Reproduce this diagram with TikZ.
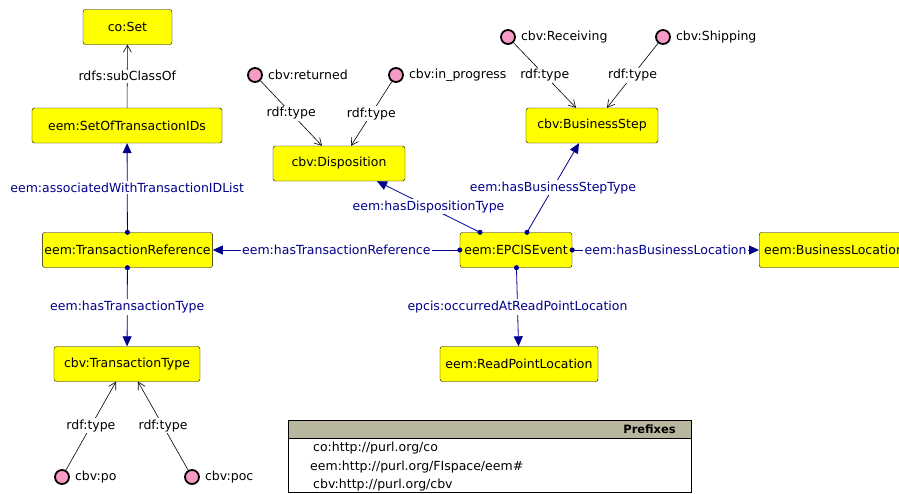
\documentclass[tikz,border=0pt]{standalone}
\usepackage{fontspec}
\setmainfont{DejaVu Sans}
\usetikzlibrary{arrows.meta,positioning}
\definecolor{clsyellow}{RGB}{255,255,0}
\definecolor{propblue}{RGB}{0,0,140}
\definecolor{indpink}{RGB}{248,154,200}
\definecolor{headgray}{RGB}{184,182,158}
\begin{document}
\begin{tikzpicture}[x=1pt,y=-1pt,
  every node/.style={font=\fontsize{12.5}{14}\selectfont},
  cls/.style={draw, fill=clsyellow, rounded corners=2.5pt, minimum height=35pt, inner sep=2pt},
  ind/.style={circle, draw, line width=1.8pt, fill=indpink, minimum size=14pt, inner sep=0pt},
  indlab/.style={inner sep=0pt},
  typeedge/.style={draw, line width=0.6pt, -{Straight Barb[length=7pt,width=8pt]}},
  propedge/.style={draw, propblue, line width=0.8pt, {Circle[length=5pt]}-{Triangle[length=10pt,width=9pt]}, shorten <=-2.5pt},
  elab/.style={fill=white, inner sep=1.5pt},
  plab/.style={elab, text=propblue}]
\useasboundingbox (0,0) rectangle (899,493);
% classes
\node[cls, minimum width=89pt] (coset) at (127.5,27) {co:Set};
\node[cls, minimum width=190pt] (setids) at (127,125.5) {eem:SetOfTransactionIDs};
\node[cls, minimum width=169pt] (txref) at (127.5,250) {eem:TransactionReference};
\node[cls, minimum width=146pt] (txtype) at (127,364) {cbv:TransactionType};
\node[cls, minimum width=132pt] (disp) at (339,163.5) {cbv:Disposition};
\node[cls, minimum width=132pt] (bstep) at (592,125.5) {cbv:BusinessStep};
\node[cls, minimum width=112pt] (event) at (516,250) {eem:EPCISEvent};
\node[cls, anchor=west, inner xsep=5pt] (bloc) at (759,250) {eem:BusinessLocation};
\node[cls, minimum width=158pt] (rploc) at (519,364) {eem:ReadPointLocation};
% individuals
\node[ind] (returned) at (255,75) {};
\node[indlab, right=5pt of returned] (returnedlab) {cbv:returned};
\node[ind] (inprog) at (396,75) {};
\node[indlab, right=5pt of inprog] (inproglab) {cbv:in\_progress};
\node[ind] (receiving) at (508,37) {};
\node[indlab, right=5pt of receiving] (receivinglab) {cbv:Receiving};
\node[ind] (shipping) at (663,37) {};
\node[indlab, right=5pt of shipping] (shippinglab) {cbv:Shipping};
\node[ind] (po) at (62,477) {};
\node[indlab, right=5pt of po] (polab) {cbv:po};
\node[ind] (poc) at (192,477) {};
\node[indlab, right=5pt of poc] (poclab) {cbv:poc};
% rdf:type and subclass
\draw[typeedge] (setids) -- node[elab] {rdfs:subClassOf} (coset);
\draw[typeedge] (returned) -- node[elab] {rdf:type} ([xshift=-17pt]disp.north);
\draw[typeedge] (inprog) -- node[elab] {rdf:type} ([xshift=12pt]disp.north);
\draw[typeedge] (receiving) -- node[elab] {rdf:type} ([xshift=-16pt]bstep.north);
\draw[typeedge] (shipping) -- node[elab] {rdf:type} ([xshift=15pt]bstep.north);
\draw[typeedge] (po) -- node[elab] {rdf:type} ([xshift=-11pt]txtype.south);
\draw[typeedge] (poc) -- node[elab] {rdf:type} ([xshift=11pt]txtype.south);
% object properties
\draw[propedge] (txref) -- node[plab] {eem:associatedWithTransactionIDList} (setids);
\draw[propedge] (txref) -- node[plab] {eem:hasTransactionType} (txtype);
\draw[propedge] (event) -- node[plab] {eem:hasTransactionReference} (txref);
\draw[propedge] ([xshift=-36pt]event.north) -- node[plab] {eem:hasDispositionType} ([xshift=38pt]disp.south);
\draw[propedge] ([xshift=11pt]event.north) -- node[plab] {eem:hasBusinessStepType} ([xshift=-13pt]bstep.south);
\draw[propedge] (event) -- node[plab] {eem:hasBusinessLocation} (bloc);
\draw[propedge] (event) -- node[plab] {epcis:occurredAtReadPointLocation} (rploc);
% prefixes
\draw[fill=headgray] (288,420) rectangle (691,438);
\draw (288,438) rectangle (691,492);
\node[anchor=east, inner sep=0pt, font=\fontsize{11.5}{13}\bfseries] (prefhead) at (676,429) {Prefixes};
\node[anchor=west, inner sep=0pt] (prefco) at (313,448) {co:http://purl.org/co};
\node[anchor=west, inner sep=0pt] (prefeem) at (310,467) {eem:http://purl.org/FIspace/eem\#};
\node[anchor=west, inner sep=0pt] (prefcbv) at (313,485) {cbv:http://purl.org/cbv};
\end{tikzpicture}
\end{document}
